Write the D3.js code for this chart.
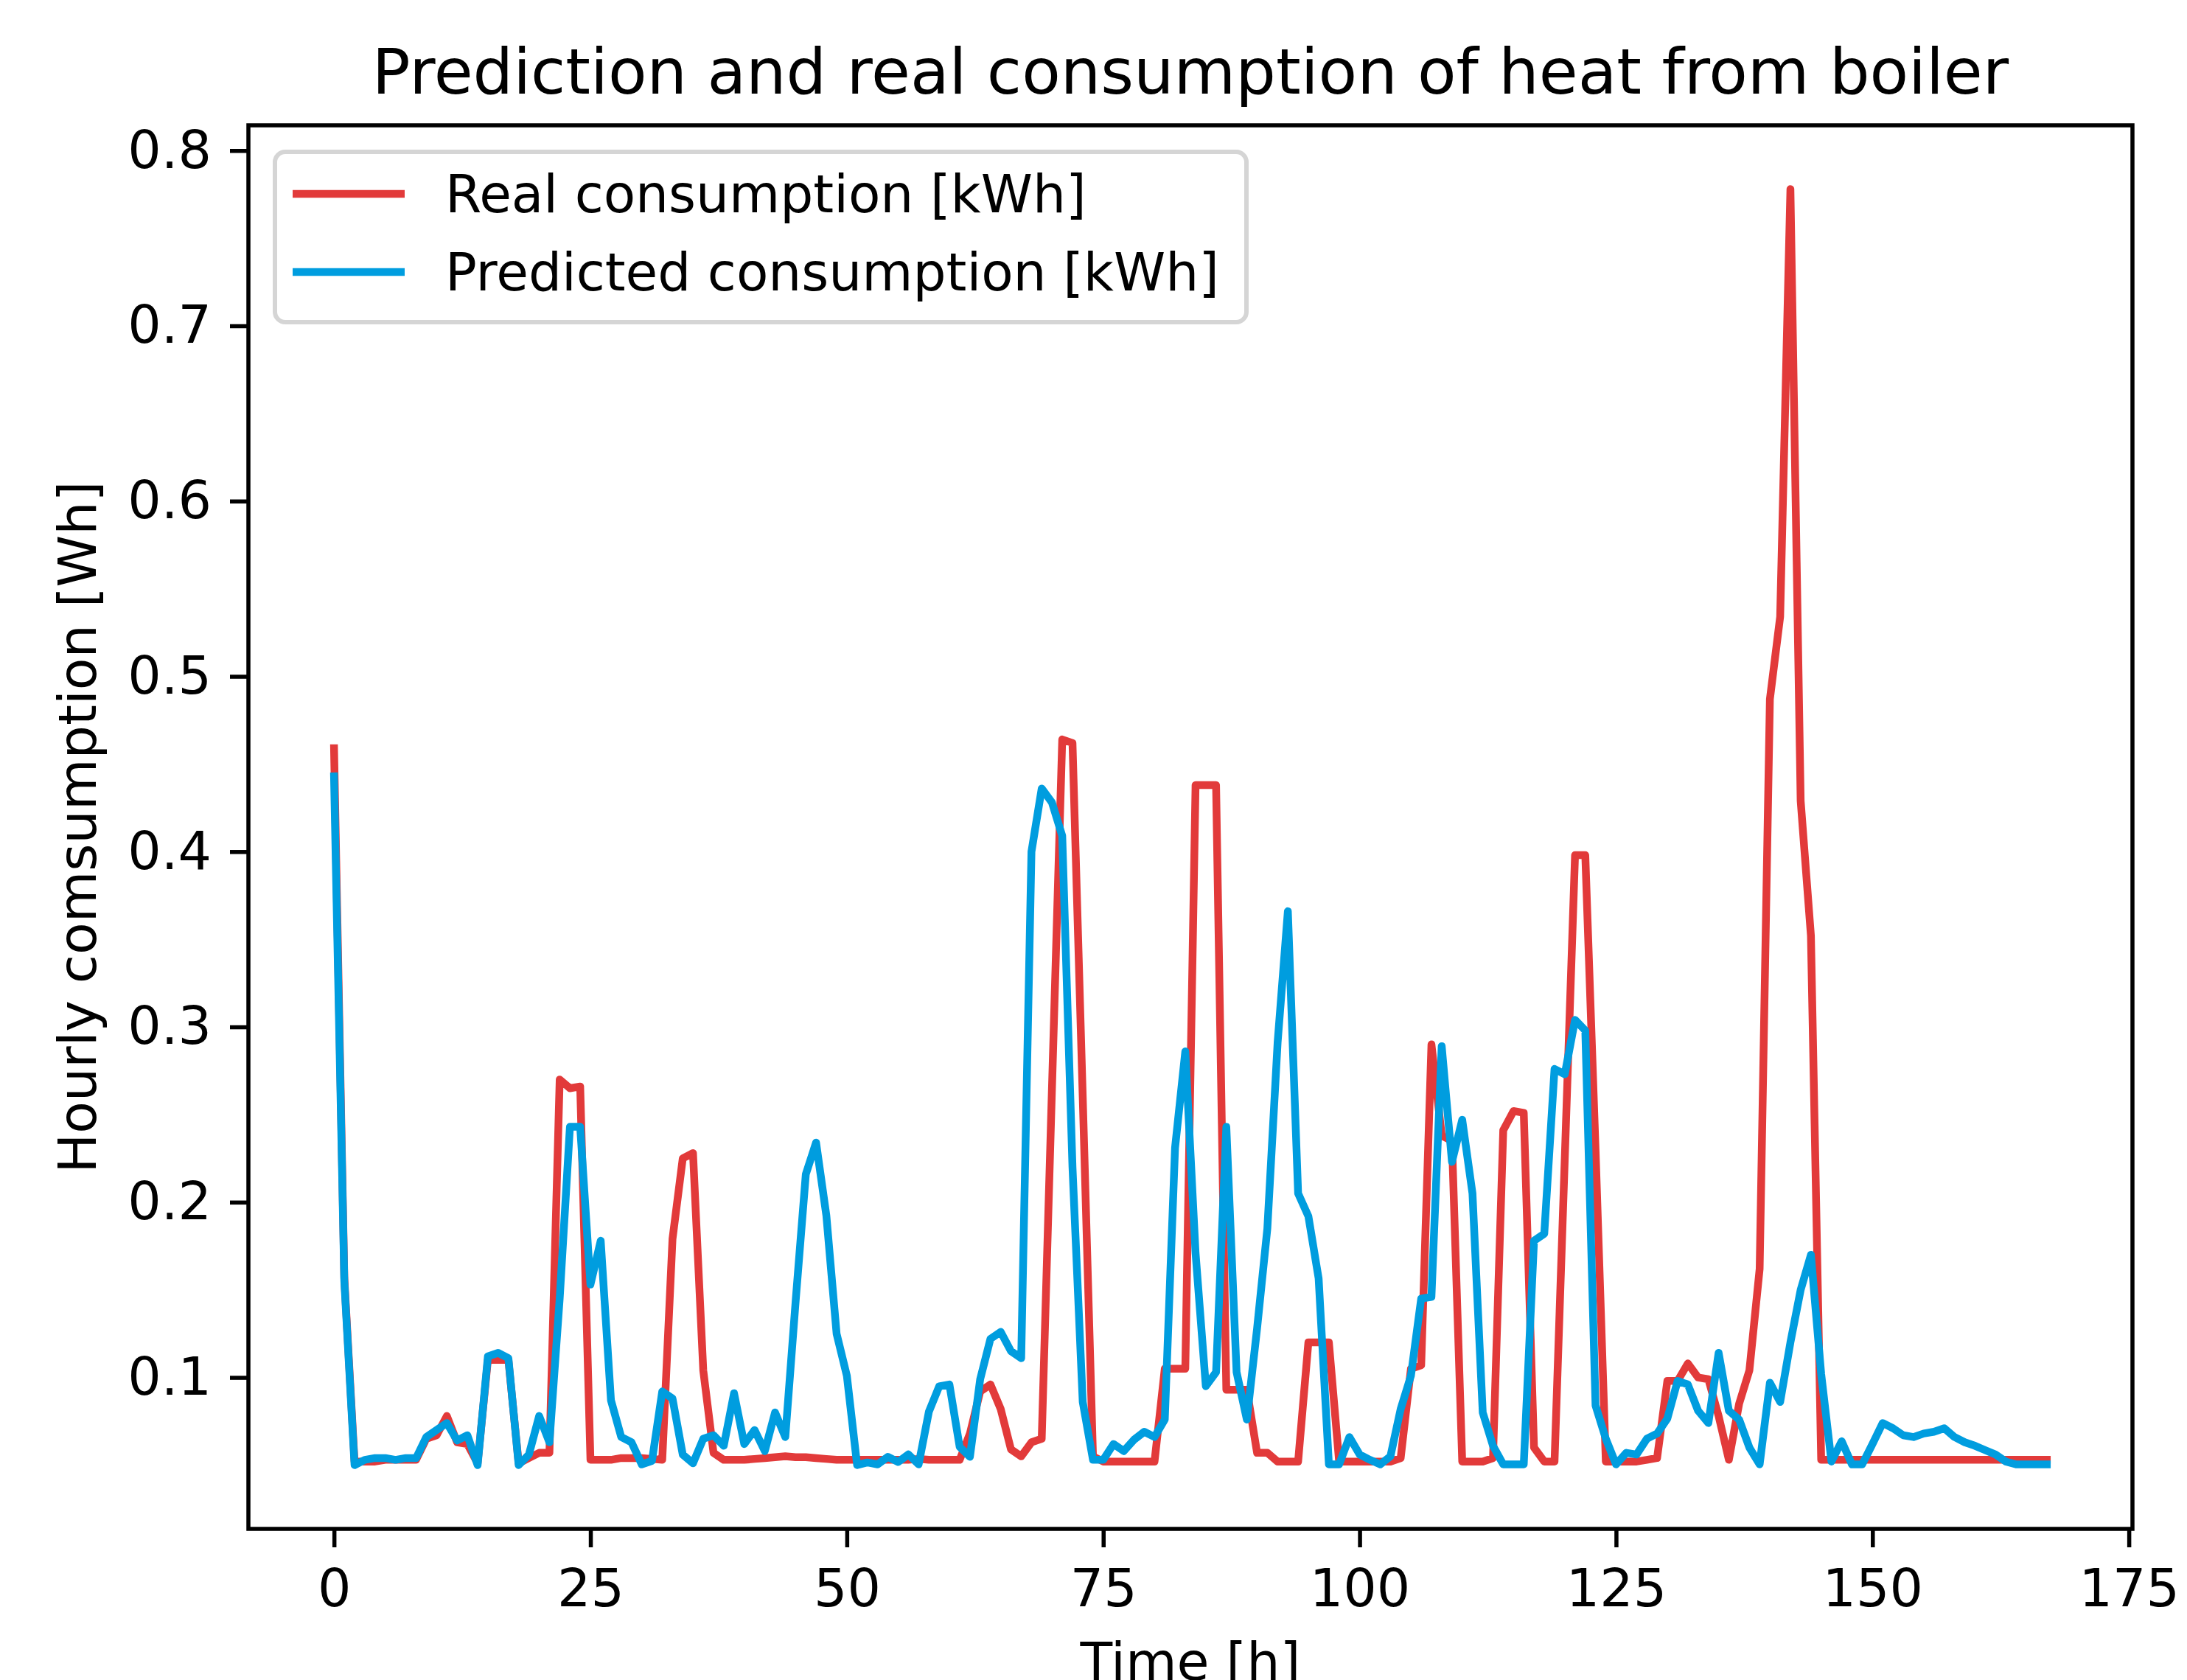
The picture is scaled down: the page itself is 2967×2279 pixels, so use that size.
<!DOCTYPE html>
<html>
<head>
<meta charset="utf-8">
<script src="https://cdn.jsdelivr.net/npm/d3@7"></script>
<style>
  html, body { margin: 0; padding: 0; background: #fff; }
  svg { display: block; font-family: "DejaVu Sans", sans-serif; }
</style>
</head>
<body>
<svg id="chart" width="2967" height="2279"></svg>
<script>
// hourly values, hour 0..167
const real = [
  0.459, 0.157, 0.052, 0.052, 0.052, 0.053, 0.053, 0.053, 0.053, 0.065,
  0.067, 0.078, 0.063, 0.062, 0.051, 0.110, 0.110, 0.110, 0.051, 0.054,
  0.057, 0.057, 0.270, 0.265, 0.266, 0.053, 0.053, 0.053, 0.054, 0.054,
  0.054, 0.0535, 0.053, 0.179, 0.225, 0.228, 0.104, 0.057, 0.053, 0.053,
  0.053, 0.0535, 0.054, 0.0545, 0.055, 0.0545, 0.0545, 0.054, 0.0535, 0.053,
  0.053, 0.053, 0.053, 0.053, 0.053, 0.053, 0.053, 0.0535, 0.053, 0.053,
  0.053, 0.053, 0.068, 0.092, 0.096, 0.082, 0.059, 0.055, 0.063, 0.065,
  0.265, 0.464, 0.462, 0.260, 0.055, 0.052, 0.052, 0.052, 0.052, 0.052,
  0.052, 0.105, 0.105, 0.105, 0.438, 0.438, 0.438, 0.093, 0.093, 0.093,
  0.057, 0.057, 0.052, 0.052, 0.052, 0.120, 0.120, 0.120, 0.052, 0.052,
  0.052, 0.052, 0.052, 0.052, 0.054, 0.105, 0.107, 0.290, 0.238, 0.235,
  0.052, 0.052, 0.052, 0.054, 0.241, 0.252, 0.251, 0.060, 0.052, 0.052,
  0.225, 0.398, 0.398, 0.230, 0.052, 0.052, 0.052, 0.052, 0.053, 0.054,
  0.098, 0.098, 0.108, 0.100, 0.099, 0.078, 0.053, 0.085, 0.104, 0.162,
  0.487, 0.534, 0.778, 0.429, 0.352, 0.053, 0.053, 0.053, 0.053, 0.053,
  0.053, 0.053, 0.053, 0.053, 0.053, 0.053, 0.053, 0.053, 0.053, 0.053,
  0.053, 0.053, 0.053, 0.053, 0.053, 0.053, 0.053, 0.053
];

const predicted = [
  0.443, 0.155, 0.050, 0.053, 0.054, 0.054, 0.053, 0.054, 0.054, 0.066,
  0.070, 0.074, 0.064, 0.067, 0.050, 0.112, 0.114, 0.111, 0.050, 0.056,
  0.078, 0.063, 0.145, 0.243, 0.243, 0.153, 0.178, 0.087, 0.066, 0.063,
  0.0504, 0.0524, 0.092, 0.088, 0.056, 0.051, 0.065, 0.067, 0.061, 0.091,
  0.062, 0.070, 0.058, 0.080, 0.066, 0.143, 0.216, 0.234, 0.1925, 0.125,
  0.101, 0.050, 0.0515, 0.0504, 0.0547, 0.0518, 0.0561, 0.0504, 0.0805, 0.0949,
  0.096, 0.0604, 0.0547, 0.099, 0.122, 0.126, 0.115, 0.111, 0.400, 0.436,
  0.428, 0.409, 0.220, 0.086, 0.053, 0.053, 0.062, 0.058, 0.0645, 0.069,
  0.066, 0.076, 0.231, 0.286, 0.171, 0.095, 0.103, 0.243, 0.103, 0.076,
  0.128, 0.185, 0.291, 0.366, 0.205, 0.192, 0.1565, 0.0504, 0.0504, 0.066,
  0.056, 0.053, 0.0504, 0.055, 0.082, 0.101, 0.145, 0.146, 0.289, 0.223,
  0.247, 0.205, 0.080, 0.061, 0.0504, 0.0504, 0.0504, 0.178, 0.182, 0.276,
  0.273, 0.304, 0.298, 0.084, 0.065, 0.0504, 0.057, 0.056, 0.065, 0.068,
  0.0765, 0.098, 0.096, 0.081, 0.074, 0.114, 0.081, 0.076, 0.060, 0.0504,
  0.097, 0.086, 0.120, 0.150, 0.170, 0.102, 0.052, 0.0636, 0.0504, 0.0504,
  0.062, 0.074, 0.071, 0.067, 0.066, 0.068, 0.069, 0.071, 0.066, 0.063,
  0.061, 0.0585, 0.056, 0.052, 0.0504, 0.0504, 0.0504, 0.0504
];

const xTicks = [0, 25, 50, 75, 100, 125, 150, 175];
const yTicks = [0.1, 0.2, 0.3, 0.4, 0.5, 0.6, 0.7, 0.8];
const seriesNames = ["Real consumption [kWh]", "Predicted consumption [kWh]"];
const seriesColors = ["#e23a3a", "#009ddf"];

const margin = { top: 170, right: 74, bottom: 205, left: 337 };
const svgWidth = 2967;
const svgHeight = 2279;
const width = svgWidth - margin.left - margin.right;
const height = svgHeight - margin.top - margin.bottom;

const svg = d3.select("#chart");
svg.append("rect").attr("width", svgWidth).attr("height", svgHeight).attr("fill", "#fff");

const g = svg.append("g").attr("transform", `translate(${margin.left},${margin.top})`);

// matplotlib-like autoscale: data range plus 5% on each side
const hours = real.map((d, i) => i);
const pad = (lo, hi) => [lo - (hi - lo) * 0.05, hi + (hi - lo) * 0.05];
const allVals = real.concat(predicted);

const x = d3.scaleLinear().domain(pad(0, hours.length - 1)).range([0, width]);
const y = d3.scaleLinear().domain(pad(d3.min(allVals), d3.max(allVals))).range([height, 0]);

const fontSize = 71.5;

// axes
const xAxis = g.append("g")
  .attr("transform", `translate(0,${height})`)
  .call(d3.axisBottom(x).tickValues(xTicks).tickFormat(d3.format("d")).tickSize(25).tickPadding(29));
const yAxis = g.append("g")
  .call(d3.axisLeft(y).tickValues(yTicks).tickFormat(d3.format(".1f")).tickSize(25).tickPadding(25));

[xAxis, yAxis].forEach(a => {
  a.select(".domain").remove();
  a.selectAll(".tick line").attr("stroke", "#000").attr("stroke-width", 5.5);
  a.selectAll(".tick text")
    .attr("fill", "#000")
    .style("font-family", "'DejaVu Sans', sans-serif")
    .style("font-size", fontSize + "px");
});

// series lines, real first so predicted sits on top
const line = d3.line().x((d, i) => x(i)).y(d => y(d));
[real, predicted].forEach((series, k) => {
  g.append("path")
    .datum(series)
    .attr("fill", "none")
    .attr("stroke", seriesColors[k])
    .attr("stroke-width", 10.5)
    .attr("stroke-linejoin", "round")
    .attr("stroke-linecap", "square")
    .attr("d", line);
});

// frame
g.append("rect")
  .attr("width", width)
  .attr("height", height)
  .attr("fill", "none")
  .attr("stroke", "#000")
  .attr("stroke-width", 5.5);

// legend
const legend = g.append("g").attr("transform", "translate(36,36)");
legend.append("rect")
  .attr("width", 1318)
  .attr("height", 231)
  .attr("rx", 14)
  .attr("fill", "#fff")
  .attr("fill-opacity", 0.8)
  .attr("stroke", "#d5d5d5")
  .attr("stroke-width", 6);

seriesNames.forEach((name, k) => {
  const row = legend.append("g").attr("transform", `translate(0,${57 + k * 106})`);
  row.append("line")
    .attr("x1", 24).attr("x2", 176)
    .attr("stroke", seriesColors[k])
    .attr("stroke-width", 10.5);
  row.append("text")
    .attr("x", 231)
    .attr("y", 25)
    .style("font-size", "71px")
    .text(name);
});

// title and axis labels
svg.append("text")
  .attr("x", margin.left + width / 2)
  .attr("y", 127)
  .attr("text-anchor", "middle")
  .style("font-size", "86px")
  .text("Prediction and real consumption of heat from boiler");

svg.append("text")
  .attr("x", margin.left + width / 2)
  .attr("y", 2279)
  .attr("text-anchor", "middle")
  .style("font-size", fontSize + "px")
  .text("Time [h]");

svg.append("text")
  .attr("transform", `translate(130,${margin.top + height / 2}) rotate(-90)`)
  .attr("text-anchor", "middle")
  .style("font-size", fontSize + "px")
  .text("Hourly comsumption [Wh]");
</script>
</body>
</html>
